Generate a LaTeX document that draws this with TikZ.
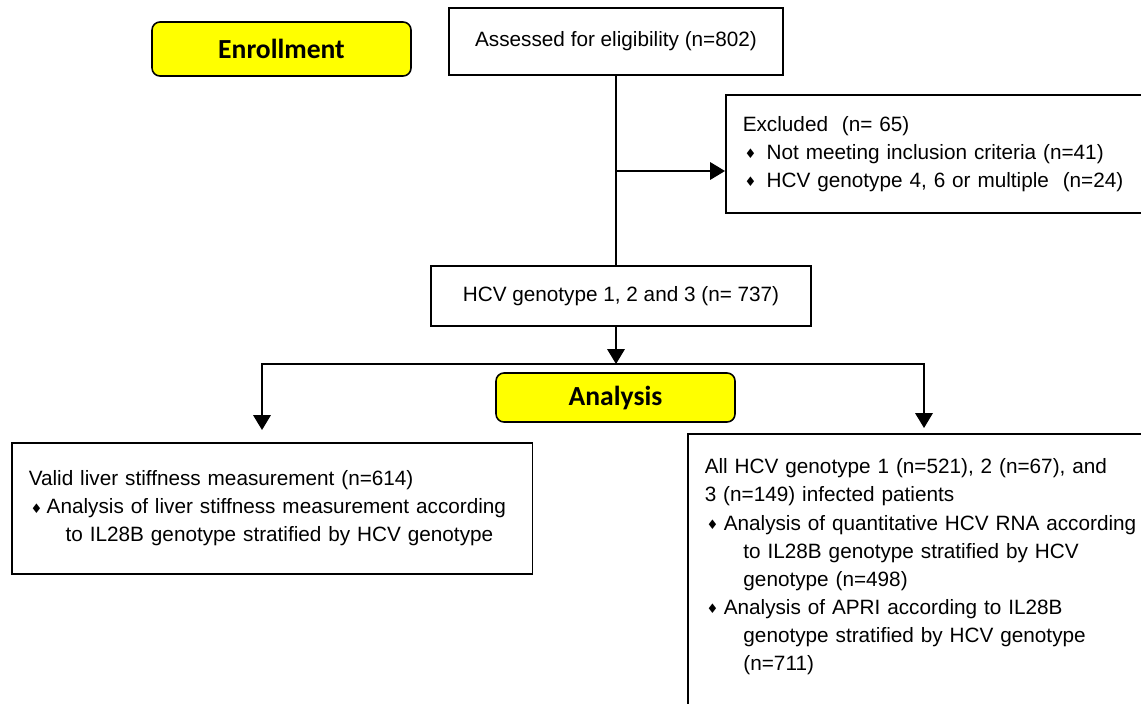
\documentclass[tikz,border=0pt]{standalone}
\usepackage{fontspec}
\setmainfont{Liberation Sans}
\newfontfamily\calibri{Carlito}
\newfontfamily\diafont{DejaVu Sans}
\usetikzlibrary{arrows.meta}

\definecolor{stageyellow}{RGB}{255,255,0}
\newcommand{\bul}[1]{\makebox[#1][l]{\hspace{1pt}\raisebox{0.3pt}{\diafont\fontsize{7.5}{7.5}\selectfont ♦}}}

\tikzset{
  box/.style={draw, line width=0.9pt, inner xsep=0.34cm, font=\fontsize{11.8}{16}\selectfont},
  stage/.style={draw, line width=0.9pt, rounded corners=4.5pt, fill=stageyellow, font=\calibri\bfseries\fontsize{15.7}{18}\selectfont},
  arr/.style={line width=0.9pt, -{Triangle[length=8.5pt,width=10pt]}},
}

\begin{document}
\begin{tikzpicture}[x=0.02cm, y=-0.02cm]
		\useasboundingbox (0,0) rectangle (1141,703);
		\clip (0,0) rectangle (1141,703);

		\node[stage, minimum width=5.18cm, minimum height=1.08cm] (enroll) at (281.5,49) {Enrollment};
		\node[box, minimum width=6.68cm, minimum height=1.34cm] (assess) at (616,41.5) {Assessed for eligibility (n=802)};
		\node[box, anchor=north west, text width=8.22cm, minimum height=2.36cm, align=left] (excl) at (725,94)
			{Excluded\ \ (n= 65)\\
			 \bul{13.6pt}Not meeting inclusion criteria (n=41)\\
			 \bul{13.6pt}HCV genotype 4, 6 or multiple\ \ (n=24)};
		\node[box, minimum width=7.6cm, minimum height=1.2cm] (hcv) at (621,296) {HCV genotype 1, 2 and 3 (n= 737)};
		\node[stage, minimum width=4.78cm, minimum height=0.98cm] (analysis) at (615.5,397.5) {Analysis};
		\node[box, anchor=north west, text width=9.74cm, minimum height=2.62cm, align=left] (lsm) at (11,442)
			{Valid liver stiffness measurement (n=614)\\
			 \bul{10.2pt}Analysis of liver stiffness measurement according\\
			 \hspace*{21pt}to IL28B genotype stratified by HCV genotype};
		\node[box, anchor=north west, text width=9.06cm, inner ysep=0.5cm, align=left] (allpt) at (687,433)
			{All HCV genotype 1 (n=521), 2 (n=67), and\\
			 3 (n=149) infected patients\\
			 \bul{10.8pt}Analysis of quantitative HCV RNA according\\
			 \hspace*{22pt}to IL28B genotype stratified by HCV\\
			 \hspace*{22pt}genotype (n=498)\\
			 \bul{10.8pt}Analysis of APRI according to IL28B\\
			 \hspace*{22pt}genotype stratified by HCV genotype\\
			 \hspace*{22pt}(n=711)\\
			 \rule{0pt}{30pt}};

		\coordinate (branch) at (616,171);
		\coordinate (split) at (616,364);
		\coordinate (lefttip) at (262,430);
		\coordinate (righttip) at (924,428);

		\draw[line width=0.9pt] (assess.south) -- (assess.south |- hcv.north);
		\draw[arr] (branch) -- (branch -| excl.west);
		\draw[arr] (hcv.south -| split) -- (split);
		\draw[arr] (split) -| (lefttip);
		\draw[arr] (split) -| (righttip);
\end{tikzpicture}
\end{document}
